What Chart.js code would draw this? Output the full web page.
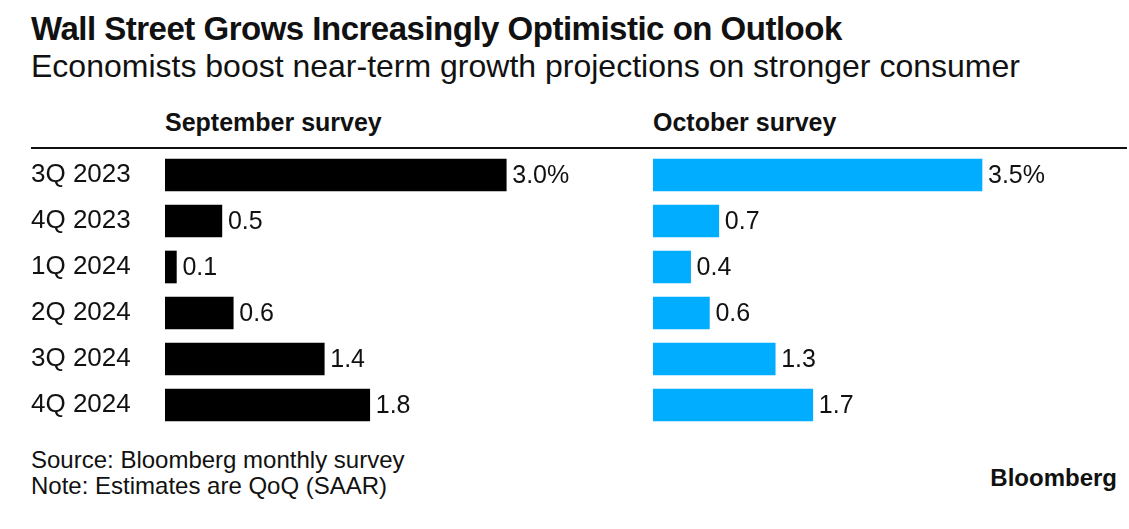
<!DOCTYPE html>
<html>
<head>
<meta charset="utf-8">
<script src="https://cdn.jsdelivr.net/npm/chart.js@4"></script>
<style>
  body { margin: 0; background: #fff; font-family: "Liberation Sans", Arial, sans-serif; color: #111; }
  #wrap { position: relative; width: 1129px; height: 529px; overflow: hidden; }
  .txt { position: absolute; white-space: nowrap; }
  #title { left: 31px; top: 10px; font-size: 33px; font-weight: bold; letter-spacing: -0.5px; }
  #subtitle { left: 31px; top: 48px; font-size: 32px; }
  .head { top: 108px; font-size: 25px; font-weight: bold; }
  #rule { position: absolute; left: 31px; top: 147px; width: 1096px; height: 2px; background: #111; }
  .foot { left: 31px; font-size: 24px; }
  #logo { right: 12px; top: 464px; font-size: 24px; font-weight: bold; }
  canvas { position: absolute; }
</style>
</head>
<body>
<div id="wrap">
  <div class="txt" id="title">Wall Street Grows Increasingly Optimistic on Outlook</div>
  <div class="txt" id="subtitle">Economists boost near-term growth projections on stronger consumer</div>
  <div class="txt head" style="left:165px">September survey</div>
  <div class="txt head" style="left:653px">October survey</div>
  <div id="rule"></div>
  <div style="position:absolute;left:0;top:152px;width:640px;height:276px"><canvas id="sepChart"></canvas></div>
  <div style="position:absolute;left:640px;top:152px;width:489px;height:276px"><canvas id="octChart"></canvas></div>
  <div class="txt foot" style="top:446px">Source: Bloomberg monthly survey</div>
  <div class="txt foot" style="top:472px">Note: Estimates are QoQ (SAAR)</div>
  <div class="txt" id="logo">Bloomberg</div>
</div>
<script>
// Chart data
const quarters = ['3Q 2023', '4Q 2023', '1Q 2024', '2Q 2024', '3Q 2024', '4Q 2024'];
const septemberValues = [3.0, 0.5, 0.1, 0.6, 1.4, 1.8];
const octoberValues = [3.5, 0.7, 0.4, 0.6, 1.3, 1.7];
const septemberLabels = ['3.0%', '0.5', '0.1', '0.6', '1.4', '1.8'];
const octoberLabels = ['3.5%', '0.7', '0.4', '0.6', '1.3', '1.7'];

// Draws the value text just past the end of each bar
const valueLabels = {
    id: 'valueLabels',
    afterDatasetsDraw(chart, args, opts) {
        const ctx = chart.ctx;
        const meta = chart.getDatasetMeta(0);
        ctx.save();
        ctx.font = '25px "Liberation Sans", Arial, sans-serif';
        ctx.fillStyle = '#111';
        ctx.textBaseline = 'middle';
        ctx.textAlign = 'left';
        meta.data.forEach((bar, i) => {
            ctx.fillText(opts.labels[i], bar.x + 6, bar.y + 1);
        });
        ctx.restore();
    }
};

function makeChart(id, values, labels, color, showCategories, padLeft, padRight, axisWidth) {
    return new Chart(document.getElementById(id), {
        type: 'bar',
        data: {
            labels: quarters,
            datasets: [{
                data: values,
                backgroundColor: color,
                borderWidth: 0,
                barThickness: 32
            }]
        },
        options: {
            indexAxis: 'y',
            responsive: true,
            maintainAspectRatio: false,
            animation: false,
            layout: { padding: { left: padLeft, right: padRight, top: 0, bottom: 0 } },
            scales: {
                x: {
                    display: false,
                    min: 0,
                    max: 4
                },
                y: {
                    display: showCategories,
                    grid: { display: false, drawTicks: false },
                    border: { display: false },
                    afterFit: scale => {
                        scale.width = axisWidth;
                        // keep the category rows full height
                        scale.paddingTop = 0;
                        scale.paddingBottom = 0;
                    },
                    ticks: {
                        crossAlign: 'far',
                        padding: 0,
                        color: '#111',
                        font: { family: '"Liberation Sans", Arial, sans-serif', size: 26 }
                    }
                }
            },
            plugins: {
                legend: { display: false },
                tooltip: { enabled: false },
                valueLabels: { labels: labels }
            }
        },
        plugins: [valueLabels]
    });
}

makeChart('sepChart', septemberValues, septemberLabels, '#000000', true, 31, 20, 134);
makeChart('octChart', octoberValues, octoberLabels, '#00adff', false, 13, 100, 0);
</script>
</body>
</html>
